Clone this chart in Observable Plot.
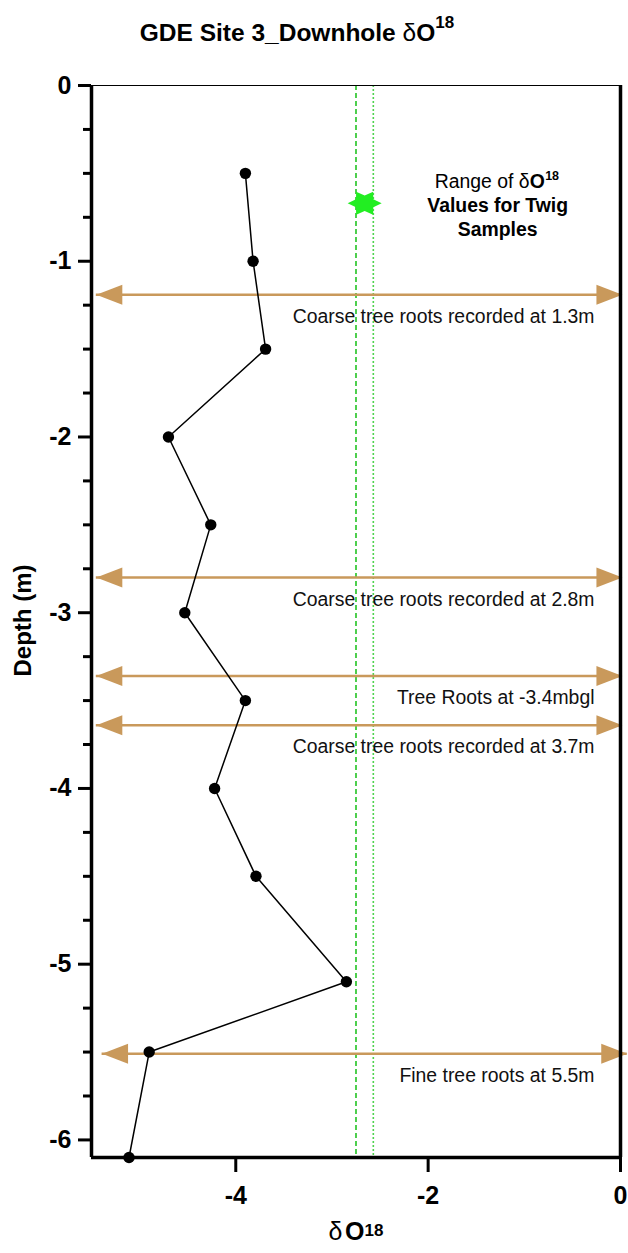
<!DOCTYPE html>
<html><head><meta charset="utf-8">
<script src="https://cdn.jsdelivr.net/npm/d3@7"></script>
<script src="https://cdn.jsdelivr.net/npm/@observablehq/plot@0.6"></script>
<style>
body{margin:0;background:#fff;font-family:"Liberation Sans",Arial,sans-serif;}
#title{position:relative;height:60px;}
#title div{position:absolute;top:19px;left:0;width:594px;text-align:center;font-size:24.5px;font-weight:bold;line-height:28px;color:#000;white-space:nowrap;}
#chart svg{display:block;}
</style></head><body>
<div id="title"><div>GDE Site 3_Downhole <span style="font-weight:normal">δ</span>O<span style="font-size:17px;position:relative;top:-13px">18</span></div></div>
<div id="chart"></div>
<script>
// ---- data ----
const depth = [-0.5, -1, -1.5, -2, -2.5, -3, -3.5, -4, -4.5, -5.1, -5.5, -6.1];
const d18O  = [-3.90, -3.82, -3.69, -4.70, -4.26, -4.53, -3.90, -4.22, -3.79, -2.85, -4.90, -5.11];

const rootDepths = [-1.19, -2.80, -3.36, -3.64, -5.51];
const rootLabels = [
  "Coarse tree roots recorded at 1.3m",
  "Coarse tree roots recorded at 2.8m",
  "Tree Roots at -3.4mbgl",
  "Coarse tree roots recorded at 3.7m",
  "Fine tree roots at 5.5m"
];
const rootLeft  = [-5.45, -5.45, -5.45, -5.45, -5.39];
const rootRight = [0.02, 0.02, 0.02, 0.02, 0.07];

const twigMin = -2.75;   // dashed
const twigMax = -2.57;   // dotted
const twigStar = [{x: -2.66, y: -0.67}];

const xTicks = [-4, -2, 0];
const yTicks = [0, -1, -2, -3, -4, -5, -6];
const yMinorTicks = [-0.25, -0.5, -0.75, -1.25, -1.5, -1.75, -2.25, -2.5, -2.75, -3.25, -3.5, -3.75,
                     -4.25, -4.5, -4.75, -5.25, -5.5, -5.75];

// ---- build ----
const points = depth.map((d, i) => ({depth: d, value: d18O[i]}));
const roots = rootDepths.map((d, i) => ({depth: d, label: rootLabels[i], x1: rootLeft[i], x2: rootRight[i]}));

const tan = "#c9995b";
const leftHead  = {draw(c){ c.moveTo(0,0); c.lineTo(26,-10); c.lineTo(26,10); c.closePath(); }};
const rightHead = {draw(c){ c.moveTo(0,0); c.lineTo(-26,-10); c.lineTo(-26,10); c.closePath(); }};
const hexagram = {draw(c){
  for (let k = 0; k < 12; k++) {
    const a = k * Math.PI / 6;
    const r = k % 2 === 0 ? 17 : 10;
    const px = r * Math.cos(a), py = r * Math.sin(a) * 0.78;
    if (k) c.lineTo(px, py); else c.moveTo(px, py);
  }
  c.closePath();
}};

const fmt = d => String(d);

const chart = Plot.plot({
  width: 628,
  height: 1193,
  marginTop: 25,
  marginBottom: 96,
  marginLeft: 91,
  marginRight: 8,
  style: {fontFamily: "'Liberation Sans', Arial, sans-serif", color: "black", background: "white"},
  x: {domain: [-5.5, 0]},
  y: {domain: [-6.1, 0]},
  marks: [
    // twig range lines
    Plot.ruleX([twigMin], {stroke: "#22c322", strokeWidth: 1.6, strokeDasharray: "5,3"}),
    Plot.ruleX([twigMax], {stroke: "#4fd34f", strokeWidth: 1.6, strokeDasharray: "2,2"}),
    // root arrows
    Plot.ruleY(roots, {y: "depth", x1: "x1", x2: "x2", stroke: tan, strokeWidth: 2.5}),
    Plot.dot(roots, {x: "x1", y: "depth", symbol: leftHead, fill: tan, stroke: "none"}),
    Plot.dot(roots, {x: "x2", y: "depth", symbol: rightHead, fill: tan, stroke: "none"}),
    Plot.text(roots, {y: "depth", text: "label", frameAnchor: "right", textAnchor: "end", dx: -26, dy: 22, fontSize: 19.4, fill: "#111"}),
    // frame
    Plot.ruleY([0], {strokeWidth: 1.2}),
    Plot.ruleX([0], {strokeWidth: 3.5}),
    Plot.ruleX([-5.5], {strokeWidth: 3.5}),
    Plot.ruleY([-6.1], {strokeWidth: 3.5}),
    // data
    Plot.line(points, {x: "value", y: "depth", stroke: "black", strokeWidth: 1.5}),
    Plot.dot(points, {x: "value", y: "depth", r: 5.7, fill: "black"}),
    // star + legend
    Plot.dot(twigStar, {x: "x", y: "y", symbol: hexagram, fill: "#22ee22", stroke: "none"}),
    Plot.text(twigStar, {x: "x", y: "y", text: () => "Range of δ", textAnchor: "end", dx: 165, dy: -21.3, fontSize: 19.4}),
    Plot.text(twigStar, {x: "x", y: "y", text: () => "O", textAnchor: "start", dx: 165, dy: -21.3, fontSize: 19.4, fontWeight: "bold"}),
    Plot.text(twigStar, {x: "x", y: "y", text: () => "18", textAnchor: "start", dx: 180.5, dy: -27, fontSize: 12.5, fontWeight: "bold"}),
    Plot.text(twigStar, {x: "x", y: "y", text: () => "Values for Twig", textAnchor: "middle", dx: 133, dy: 2.7, fontSize: 19.4, fontWeight: "bold"}),
    Plot.text(twigStar, {x: "x", y: "y", text: () => "Samples", textAnchor: "middle", dx: 133, dy: 26.3, fontSize: 19.4, fontWeight: "bold"}),
    // axes
    Plot.axisY({ticks: yTicks, tickSize: 13, tickPadding: 7, strokeWidth: 3, fontSize: 25, fontWeight: "bold", tickFormat: fmt, label: null}),
    Plot.axisY({ticks: yMinorTicks, tickSize: 8, strokeWidth: 3, tickFormat: () => "", label: null}),
    Plot.axisX({ticks: xTicks, tickSize: 15, tickPadding: 14, strokeWidth: 3, fontSize: 25, fontWeight: "bold", tickFormat: fmt, label: null}),
    // axis titles
    Plot.text(["Depth (m)"], {frameAnchor: "left", text: d => d, rotate: -90, textAnchor: "middle", dx: -68, dy: -1, fontSize: 24, fontWeight: "bold"}),
    Plot.text(["δ"], {frameAnchor: "bottom", text: d => d, textAnchor: "start", dx: -27.5, dy: 82, fontSize: 25}),
    Plot.text(["O"], {frameAnchor: "bottom", text: d => d, textAnchor: "start", dx: -11, dy: 82, fontSize: 25, fontWeight: "bold"}),
    Plot.text(["18"], {frameAnchor: "bottom", text: d => d, textAnchor: "start", dx: 8.5, dy: 78.7, fontSize: 17, fontWeight: "bold"})
  ]
});
document.getElementById("chart").appendChild(chart);
</script>
</body></html>
